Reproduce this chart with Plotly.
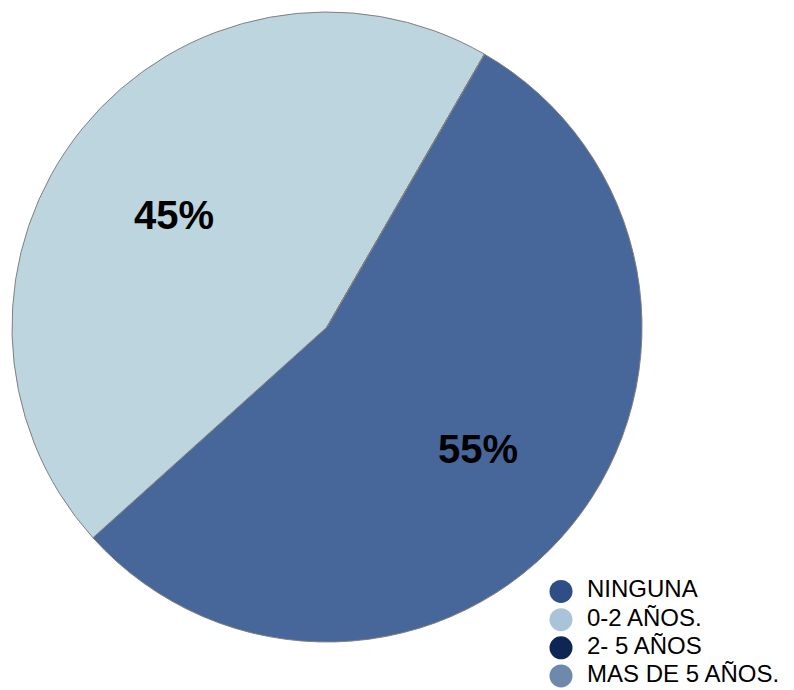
import plotly.graph_objects as go

categories = ["NINGUNA", "0-2 AÑOS.", "2- 5 AÑOS", "MAS DE 5 AÑOS."]
values = [55, 45, 0, 0]
slice_colors = ["#47679A", "#BDD5DE", "#0E2654", "#6F89AD"]
legend_colors = ["#2E4E86", "#A9C4D8", "#0E2654", "#6F89AD"]
label_pos = [(478, 449), (174, 215)]  # pixel positions of the percentage labels

W, H = 794, 690
fig = go.Figure()
fig.add_trace(go.Pie(
    labels=categories, values=values, sort=False, direction="clockwise",
    rotation=30, marker=dict(colors=slice_colors, line=dict(color="#7F7F7F", width=1)),
    textinfo="none", showlegend=False, hoverinfo="label+percent",
    domain=dict(x=[12 / W, 642 / W], y=[1 - 642 / H, 1 - 12 / H]),
))

# legend replica (circle markers + labels), one row per category
rows = list(range(len(categories)))
fig.add_trace(go.Scatter(x=[561] * len(rows), y=rows, mode="markers", showlegend=False,
                         marker=dict(symbol="circle", size=23, color=legend_colors),
                         hoverinfo="skip", cliponaxis=False))
fig.add_trace(go.Scatter(x=[587] * len(rows), y=rows, mode="text", text=categories,
                         textposition="middle right", showlegend=False, hoverinfo="skip",
                         textfont=dict(family="Liberation Sans, Arial", size=24, color="black"),
                         cliponaxis=False))

total = sum(values)
for v, (px, py) in zip(values[:2], label_pos):
    fig.add_annotation(x=px / W, y=1 - py / H, xref="paper", yref="paper",
                       xanchor="center", yanchor="middle",
                       text=f"<b>{round(100 * v / total)}%</b>", showarrow=False,
                       font=dict(family="Liberation Sans, Arial", size=40, color="black"))

fig.update_layout(
    width=W, height=H, margin=dict(l=0, r=0, t=0, b=0, autoexpand=False),
    paper_bgcolor="white", plot_bgcolor="rgba(0,0,0,0)", showlegend=False,
    xaxis=dict(visible=False, domain=[0, 1], range=[0, W], fixedrange=True),
    yaxis=dict(visible=False, domain=[0, 1 - 577.4 / H],
               range=[3.5, -0.5], fixedrange=True),
)
fig.write_html("out.html")
